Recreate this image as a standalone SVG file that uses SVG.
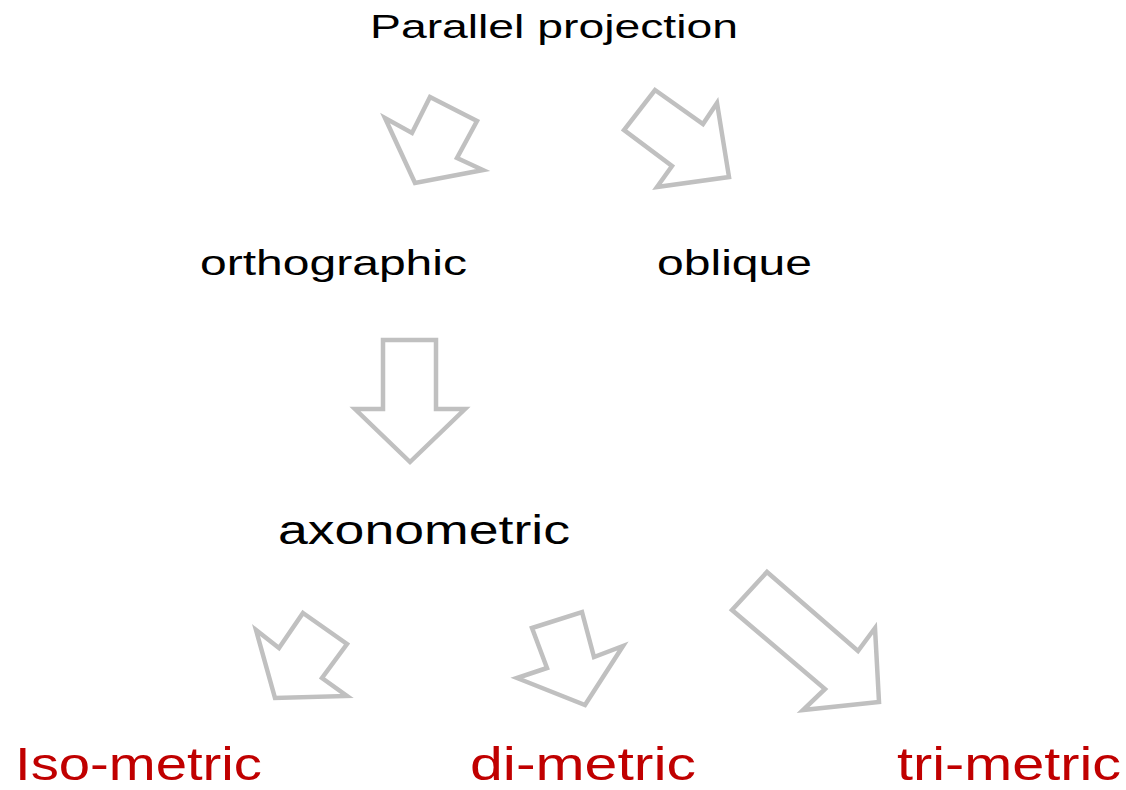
<svg xmlns="http://www.w3.org/2000/svg" width="1126" height="790" viewBox="0 0 1126 790">
<style>
.t{font-family:"Liberation Sans","DejaVu Sans",sans-serif;fill:#000}
.r{font-family:"Liberation Sans","DejaVu Sans",sans-serif;fill:#c00000}
.a{fill:#fff;stroke:#c0c0c0;stroke-width:4.5;stroke-linejoin:miter}
</style>
<rect width="1126" height="790" fill="#fff"/>
<g id="connectors">
<polygon class="a" points="430,97 477,121 457,158 483,170 415,183 385,118 412,133"/>
<polygon class="a" points="655,90 703,124 717,103 729,177 657,187 672,166 624,130"/>
<polygon class="a" points="383,340 436,340 436,409 465,409 410,462 355,409 383,409"/>
<polygon class="a" points="303,613 347,644 322,678 347,696 275,698 256,630 279,648"/>
<polygon class="a" points="532,628 582,612 594,657 623,646 585,705 517,678 547,668"/>
<polygon class="a" points="767,572 858,651 875,628 879,702 803,710 825,689 732,610"/>
</g>
<g id="parallel"><text class="t" x="370" y="38" font-size="33" textLength="368" lengthAdjust="spacingAndGlyphs">Parallel projection</text></g>
<g id="orthographic"><text class="t" x="200" y="275" font-size="35" textLength="267" lengthAdjust="spacingAndGlyphs">orthographic</text></g>
<g id="oblique"><text class="t" x="657" y="275" font-size="35" textLength="155" lengthAdjust="spacingAndGlyphs">oblique</text></g>
<g id="axonometric"><text class="t" x="278" y="544" font-size="40" textLength="292" lengthAdjust="spacingAndGlyphs">axonometric</text></g>
<g id="iso"><text class="r" x="15" y="780" font-size="46" textLength="247" lengthAdjust="spacingAndGlyphs">Iso-metric</text></g>
<g id="di"><text class="r" x="470" y="780" font-size="46" textLength="226" lengthAdjust="spacingAndGlyphs">di-metric</text></g>
<g id="tri"><text class="r" x="897" y="780" font-size="46" textLength="224" lengthAdjust="spacingAndGlyphs">tri-metric</text></g>
</svg>
